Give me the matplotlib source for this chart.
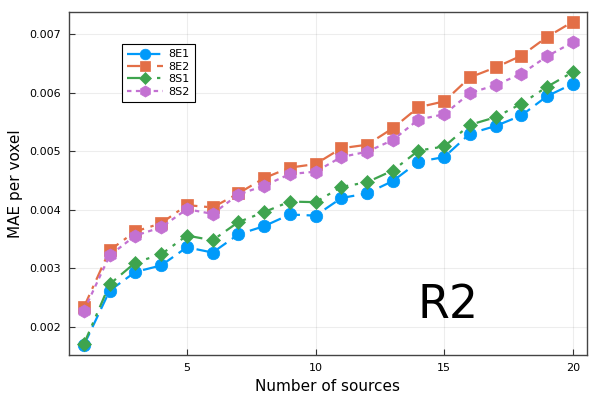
import numpy as np
import matplotlib
matplotlib.use("Agg")
import matplotlib.pyplot as plt

# MAE per voxel vs number of sources
n_sources = np.arange(1, 21)
mae_8e1 = [0.00169, 0.00262, 0.00294, 0.00305, 0.00336, 0.00327, 0.00358, 0.00372, 0.00392, 0.00390,
           0.00420, 0.00428, 0.00449, 0.00482, 0.00490, 0.00530, 0.00543, 0.00561, 0.00594, 0.00615]
mae_8e2 = [0.00234, 0.00331, 0.00363, 0.00377, 0.00408, 0.00404, 0.00428, 0.00454, 0.00472, 0.00478,
           0.00505, 0.00511, 0.00539, 0.00575, 0.00585, 0.00626, 0.00643, 0.00663, 0.00695, 0.00721]
mae_8s1 = [0.00171, 0.00273, 0.00310, 0.00324, 0.00356, 0.00348, 0.00379, 0.00396, 0.00414, 0.00413,
           0.00439, 0.00447, 0.00467, 0.00501, 0.00508, 0.00545, 0.00558, 0.00581, 0.00610, 0.00635]
mae_8s2 = [0.00228, 0.00322, 0.00356, 0.00370, 0.00401, 0.00393, 0.00426, 0.00441, 0.00461, 0.00465,
           0.00490, 0.00499, 0.00519, 0.00554, 0.00563, 0.00599, 0.00613, 0.00632, 0.00662, 0.00686]

series = [
    ("8E1", mae_8e1, "#009AFA", "o", (0, (6, 3)), 9),
    ("8E2", mae_8e2, "#E36F47", "s", (0, (6, 3, 1.5, 3)), 9),
    ("8S1", mae_8s1, "#3EA44E", "D", (0, (6, 3, 1.5, 3, 1.5, 3)), 7),
    ("8S2", mae_8s2, "#C371D2", "h", (0, (2, 2)), 9.5),
]

fig = plt.figure(figsize=(6, 4), dpi=100)
ax = fig.add_axes([0.115, 0.1125, 0.863, 0.8575])

for name, vals, color, marker, ls, ms in series:
    ax.plot(n_sources, vals, color=color, linestyle=ls, linewidth=1.6,
            marker=marker, markersize=ms, markeredgecolor=color, markeredgewidth=0.5,
            label=name)

ax.set_xlim(0.42, 20.54)
ax.set_ylim(0.001522, 0.007375)
ax.set_xticks([5, 10, 15, 20])
ax.set_yticks([0.002, 0.003, 0.004, 0.005, 0.006, 0.007])
ax.set_yticklabels(["0.002", "0.003", "0.004", "0.005", "0.006", "0.007"])
ax.tick_params(direction="in", length=4, width=0.8, color="#333333", labelsize=8, pad=6)
ax.grid(True, color="#000000", alpha=0.07, linewidth=0.8)
for sp in ax.spines.values():
    sp.set_color("#444444")
    sp.set_linewidth(1.0)

ax.set_xlabel("Number of sources", fontsize=11)
ax.set_ylabel("MAE per voxel", fontsize=11)

ax.text(15.16, 0.002375, "R2", fontsize=33, ha="center", va="center")

leg = ax.legend(loc="upper left", bbox_to_anchor=(0.102, 0.907), borderaxespad=0,
                fontsize=8, fancybox=False, framealpha=1, handlelength=3.2,
                handletextpad=0.5, labelspacing=0.22, borderpad=0.5, markerscale=0.85)
leg.get_frame().set_edgecolor("#000000")
leg.get_frame().set_linewidth(0.8)

fig.savefig("out.png", dpi=100)
